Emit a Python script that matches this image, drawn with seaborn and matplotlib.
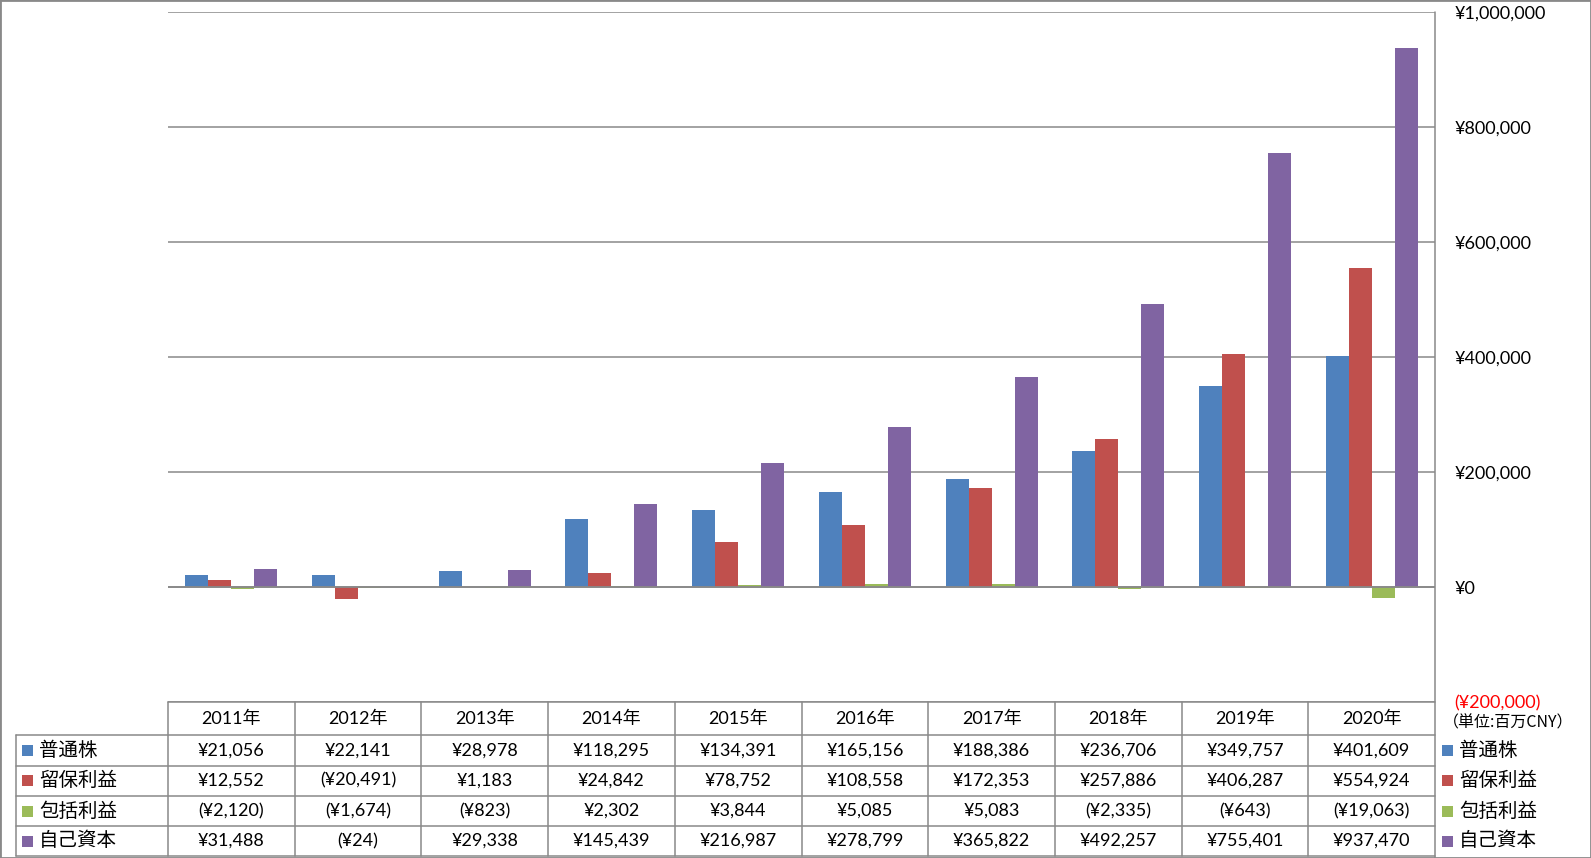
import matplotlib
matplotlib.use("Agg")
import matplotlib.pyplot as plt
import matplotlib.transforms as mtransforms
from matplotlib.lines import Line2D
from matplotlib.patches import Rectangle
import seaborn as sns
import pandas as pd

# ---------------- data ----------------
years = ["2011年", "2012年", "2013年", "2014年", "2015年",
         "2016年", "2017年", "2018年", "2019年", "2020年"]
series_names = ["普通株", "留保利益", "包括利益", "自己資本"]
common_stock = [21056, 22141, 28978, 118295, 134391, 165156, 188386, 236706, 349757, 401609]
retained_earnings = [12552, -20491, 1183, 24842, 78752, 108558, 172353, 257886, 406287, 554924]
comprehensive_income = [-2120, -1674, -823, 2302, 3844, 5085, 5083, -2335, -643, -19063]
equity = [31488, -24, 29338, 145439, 216987, 278799, 365822, 492257, 755401, 937470]
y_ticks = [-200000, 0, 200000, 400000, 600000, 800000, 1000000]
unit_label = "（単位:百万CNY）"

colors = ["#4F81BD", "#C0504D", "#9BBB59", "#8064A2"]
series_values = [common_stock, retained_earnings, comprehensive_income, equity]

rows = []
for name, vals in zip(series_names, series_values):
    for yr, v in zip(years, vals):
        rows.append({"year": yr, "series": name, "value": v})
df = pd.DataFrame(rows)

# ---------------- figure ----------------
sns.set_theme(style="white")
plt.rcParams["font.family"] = ["Lato", "Noto Sans CJK JP", "DejaVu Sans"]
CJK = ["Noto Sans CJK JP", "DejaVu Sans"]
NUM = ["Lato", "Noto Sans CJK JP", "DejaVu Sans"]

W, H = 1591, 858
fig = plt.figure(figsize=(W / 100, H / 100), dpi=100)
fig.patch.set_facecolor("white")

def fx(x):
    return x / W

def fy(y):
    return 1 - y / H

left_px, right_px, top_px, bottom_px = 168, 1435, 12.3, 702.3
ax = fig.add_axes([fx(left_px), fy(bottom_px), fx(right_px - left_px), (bottom_px - top_px) / H])

sns.barplot(data=df, x="year", y="value", hue="series", palette=colors,
            order=years, hue_order=series_names, width=0.726,
            saturation=1, linewidth=0, legend=False, ax=ax, zorder=2)

grid_color = "#898989"
ax.set_ylim(y_ticks[0], y_ticks[-1])
ax.set_xlim(-0.5, len(years) - 0.5)
ax.set_yticks(y_ticks)
ax.yaxis.tick_right()
ax.set_yticklabels([("(¥{:,})".format(-t) if t < 0 else "¥{:,}".format(t)) for t in y_ticks])
for lab, t in zip(ax.get_yticklabels(), y_ticks):
    lab.set_fontfamily(NUM)
    lab.set_fontsize(13)
    lab.set_color("#FF0000" if t < 0 else "#000000")
ax.tick_params(axis="y", length=0, pad=14)
ax.tick_params(axis="x", length=0, labelbottom=False)
ax.set_xlabel("")
ax.set_ylabel("")
ax.grid(axis="y", color=grid_color, linewidth=1.1)
ax.set_axisbelow(True)
ax.axhline(0, color=grid_color, linewidth=1.3, zorder=5)
for s in ax.spines.values():
    s.set_visible(False)

# ---------------- table ----------------
row_edges = [702.3, 735.3, 765.5, 796.0, 826.0, 856.0]
label_left = 16.3

def hline(x0, x1, y, lw=1.1):
    fig.add_artist(Line2D([fx(x0), fx(x1)], [fy(y), fy(y)], color=grid_color,
                          linewidth=lw, transform=fig.transFigure))

def vline(x, y0, y1, lw=1.1):
    fig.add_artist(Line2D([fx(x), fx(x)], [fy(y0), fy(y1)], color=grid_color,
                          linewidth=lw, transform=fig.transFigure))

hline(left_px, right_px, row_edges[0])
for y in row_edges[1:]:
    hline(label_left, right_px, y)
vline(label_left, row_edges[1], row_edges[-1])
ncol = len(years)
for k in range(ncol + 1):
    x = left_px + k * (right_px - left_px) / ncol
    if k == ncol:
        vline(x, top_px, H)
    else:
        vline(x, row_edges[0], row_edges[-1])

blend = mtransforms.blended_transform_factory(ax.transData, fig.transFigure)

def fmt(v):
    return "(¥{:,})".format(-v) if v < 0 else "¥{:,}".format(v)

hdr_y = fy((row_edges[0] + row_edges[1]) / 2)
for i, yr in enumerate(years):
    fig.text(i, hdr_y, yr, transform=blend, ha="center", va="center",
             fontsize=13, family=NUM, color="black")

for r, (name, vals, col) in enumerate(zip(series_names, series_values, colors)):
    yc = (row_edges[r + 1] + row_edges[r + 2]) / 2
    for i, v in enumerate(vals):
        fig.text(i, fy(yc), fmt(v), transform=blend, ha="center", va="center",
                 fontsize=13, family=NUM, color="black")
    # left legend key + label
    fig.add_artist(Rectangle((fx(22), fy(yc + 5.5)), fx(11), 11 / H, facecolor=col,
                             edgecolor="none", transform=fig.transFigure))
    fig.text(fx(39), fy(yc), name, ha="left", va="center", fontsize=14,
             family=CJK, color="black")
    # right legend key + label
    fig.add_artist(Rectangle((fx(1442), fy(yc + 5.5)), fx(11), 11 / H, facecolor=col,
                             edgecolor="none", transform=fig.transFigure))
    fig.text(fx(1459), fy(yc), name, ha="left", va="center", fontsize=14,
             family=CJK, color="black")

fig.text(fx(1443), fy(723), unit_label, ha="left", va="center", fontsize=11.5,
         family=CJK, color="black")

# outer border
fig.add_artist(Rectangle((0, 0), 1, 1, fill=False, edgecolor=grid_color,
                         linewidth=2, transform=fig.transFigure))

fig.savefig("out.png", dpi=100, facecolor="white")
